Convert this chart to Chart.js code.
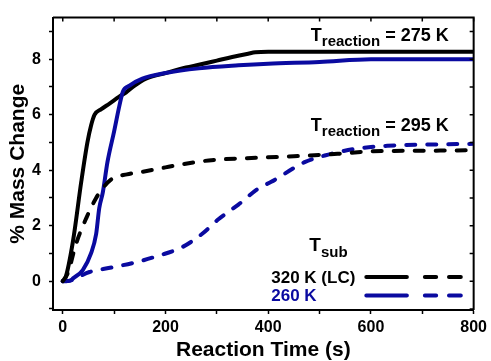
<!DOCTYPE html>
<html>
<head>
<meta charset="utf-8">
<script src="https://cdn.jsdelivr.net/npm/chart.js@4.4.1/dist/chart.umd.min.js"></script>
<style>
  html, body { margin: 0; padding: 0; background: #fff; }
  #wrap { width: 491px; height: 361px; }
</style>
</head>
<body>
<div id="wrap"><canvas id="c" width="491" height="361"></canvas></div>
<script>
// T_sub = 320 K (LC), T_reaction = 275 K  (solid black)
const lc275X = [0, 5, 20, 36, 48, 55, 62, 75, 91, 110, 123, 140, 162, 200, 240, 265, 300, 330, 361, 375, 400, 500, 600, 700, 800];
const lc275Y = [0, 0.1, 1.45, 3.58, 5.0, 5.6, 6.0, 6.2, 6.4, 6.65, 6.8, 7.05, 7.3, 7.5, 7.7, 7.8, 7.95, 8.08, 8.2, 8.25, 8.27, 8.27, 8.27, 8.27, 8.27];
// T_sub = 260 K, T_reaction = 275 K  (solid blue)
const s260X = [0, 15, 20, 39, 55, 65, 71, 78, 87, 100, 110, 117, 130, 155, 200, 265, 342, 400, 500, 600, 700, 800];
const s260Y = [0, 0.02, 0.1, 0.4, 1.0, 1.7, 2.63, 3.2, 4.29, 5.4, 6.3, 6.83, 7.05, 7.3, 7.5, 7.67, 7.78, 7.84, 7.9, 8.0, 8.0, 8.0];
// T_sub = 320 K (LC), T_reaction = 295 K  (dashed black)
const lc295X = [0, 10, 26, 46, 65, 80, 97, 125, 155, 200, 220, 284, 381, 450, 535, 600, 700, 800];
const lc295Y = [0, 0.3, 1.35, 2.28, 3.0, 3.4, 3.7, 3.85, 3.94, 4.1, 4.17, 4.35, 4.45, 4.5, 4.59, 4.68, 4.7, 4.72];
// T_sub = 260 K, T_reaction = 295 K  (dashed blue)
const s295X = [0, 7, 52, 97, 142, 187, 232, 271, 303, 342, 381, 406, 471, 510, 567, 632, 728, 800];
const s295Y = [0, 0, 0.33, 0.5, 0.68, 0.92, 1.22, 1.7, 2.23, 2.76, 3.34, 3.58, 4.29, 4.53, 4.76, 4.88, 4.93, 4.95];

const xTickLabels = [0, 200, 400, 600, 800];
const yTickLabels = [0, 2, 4, 6, 8];
const legendLabels = ['320 K (LC)', '260 K'];

const BLACK = '#000000';
const BLUE = '#0a0aa0';
const FONT = 'Arial, "Liberation Sans", sans-serif';

const pts = (xs, ys) => xs.map((x, i) => ({ x, y: ys[i] }));

function series(xs, ys, color, dashed) {
  return {
    data: pts(xs, ys),
    borderColor: color,
    borderWidth: 4,
    borderDash: dashed ? [9, 12] : [],
    borderCapStyle: 'round',
    borderJoinStyle: 'round',
    pointRadius: 0,
    tension: 0.3,
    cubicInterpolationMode: 'monotone',
    fill: false
  };
}

// frame on top/right with inward ticks, plus the text annotations and legend
const decor = {
  id: 'decor',
  afterDraw(chart) {
    const { ctx, chartArea: a, scales: { x, y } } = chart;
    ctx.save();
    ctx.strokeStyle = BLACK;
    ctx.lineWidth = 2;
    ctx.beginPath();
    ctx.moveTo(a.left, a.top); ctx.lineTo(a.right, a.top); ctx.lineTo(a.right, a.bottom);
    ctx.stroke();
    ctx.lineWidth = 1.5;
    ctx.beginPath();
    for (let v = 0; v <= 800; v += 100) {
      const px = x.getPixelForValue(v);
      ctx.moveTo(px, a.top); ctx.lineTo(px, a.top + 4);
    }
    for (let v = -1; v <= 9; v += 1) {
      const py = y.getPixelForValue(v);
      ctx.moveTo(a.right, py); ctx.lineTo(a.right - 4, py);
    }
    ctx.stroke();

    // T_reaction labels
    const treact = (vx, vy, rest) => {
      let px = x.getPixelForValue(vx), py = y.getPixelForValue(vy);
      ctx.fillStyle = BLACK;
      ctx.textBaseline = 'alphabetic';
      ctx.textAlign = 'left';
      ctx.font = 'bold 18px ' + FONT;
      ctx.fillText('T', px, py);
      px += ctx.measureText('T').width;
      ctx.font = 'bold 15px ' + FONT;
      ctx.fillText('reaction', px, py + 5);
      px += ctx.measureText('reaction').width;
      ctx.font = 'bold 18px ' + FONT;
      ctx.fillText(rest, px, py);
    };
    treact(483, 8.65, ' = 275 K');
    treact(483, 5.4, ' = 295 K');

    // T_sub legend title
    let px = x.getPixelForValue(480), py = y.getPixelForValue(1.1);
    ctx.font = 'bold 19px ' + FONT;
    ctx.fillText('T', px, py);
    px += ctx.measureText('T').width;
    ctx.font = 'bold 15px ' + FONT;
    ctx.fillText('sub', px, py + 6);

    // legend rows
    const rows = [[legendLabels[0], BLACK, 0.15], [legendLabels[1], BLUE, -0.52]];
    rows.forEach(([label, color, vy]) => {
      const ly = y.getPixelForValue(vy);
      ctx.font = 'bold 17px ' + FONT;
      ctx.fillStyle = color;
      ctx.textBaseline = 'middle';
      ctx.textAlign = 'left';
      ctx.fillText(label, x.getPixelForValue(406), ly + 1);
      ctx.strokeStyle = color;
      ctx.lineWidth = 4;
      ctx.lineCap = 'round';
      ctx.beginPath();
      ctx.moveTo(x.getPixelForValue(591), ly); ctx.lineTo(x.getPixelForValue(670), ly);
      ctx.moveTo(x.getPixelForValue(705), ly); ctx.lineTo(x.getPixelForValue(727), ly);
      ctx.moveTo(x.getPixelForValue(752), ly); ctx.lineTo(x.getPixelForValue(775), ly);
      ctx.stroke();
    });
    ctx.restore();
  }
};

new Chart(document.getElementById('c'), {
  type: 'line',
  data: {
    datasets: [
      series(lc295X, lc295Y, BLACK, true),
      series(s295X, s295Y, BLUE, true),
      series(s260X, s260Y, BLUE, false),
      series(lc275X, lc275Y, BLACK, false)
    ]
  },
  options: {
    responsive: false,
    animation: false,
    layout: { padding: { top: 14, right: 14, left: 0, bottom: 0 } },
    plugins: { legend: { display: false }, tooltip: { enabled: false } },
    scales: {
      x: {
        type: 'linear',
        min: -19,
        max: 800,
        afterFit(s) { s.height = 51; },
        border: { display: true, color: BLACK, width: 2 },
        grid: { display: true, drawOnChartArea: false, drawTicks: true, tickLength: 4, tickColor: BLACK, tickWidth: 1.5 },
        ticks: {
          stepSize: 100,
          includeBounds: false,
          autoSkip: false,
          maxRotation: 0,
          padding: 4,
          color: BLACK,
          font: { family: FONT, size: 16, weight: 'bold' },
          callback: v => xTickLabels.includes(v) ? String(v) : ''
        },
        title: {
          display: true,
          text: 'Reaction Time (s)',
          color: BLACK,
          padding: 0,
          font: { family: FONT, size: 21, weight: 'bold', lineHeight: 1 }
        }
      },
      y: {
        type: 'linear',
        min: -1.04,
        max: 9.5,
        afterFit(s) { s.width = 53; },
        border: { display: true, color: BLACK, width: 2 },
        grid: { display: true, drawOnChartArea: false, drawTicks: true, tickLength: 4, tickColor: BLACK, tickWidth: 1.5 },
        ticks: {
          stepSize: 1,
          includeBounds: false,
          autoSkip: false,
          padding: 8,
          color: BLACK,
          font: { family: FONT, size: 16, weight: 'bold' },
          callback: v => yTickLabels.includes(v) ? String(v) : ''
        },
        title: {
          display: true,
          text: '% Mass Change',
          color: BLACK,
          padding: { top: 8, bottom: 0 },
          font: { family: FONT, size: 21, weight: 'bold', lineHeight: 1 }
        }
      }
    }
  },
  plugins: [decor]
});
</script>
</body>
</html>
